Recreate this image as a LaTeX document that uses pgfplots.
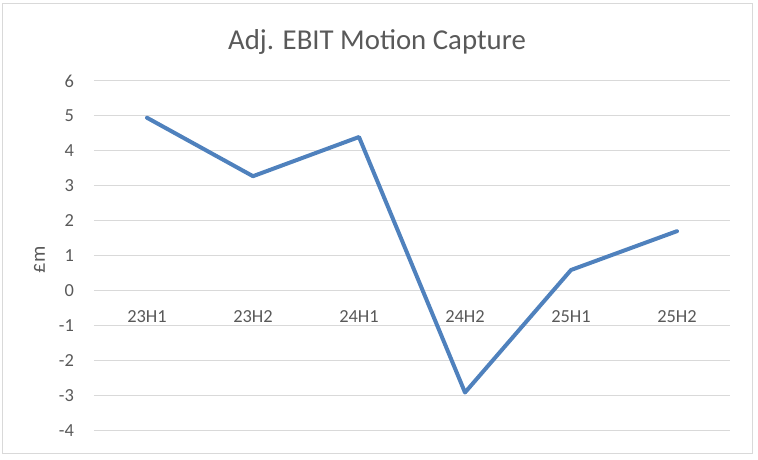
\documentclass[border=0pt]{standalone}
\usepackage{pgfplots}
\pgfplotsset{compat=1.18}
\usepackage{fontspec}
\setmainfont{Carlito}
\definecolor{txtgrey}{HTML}{595959}
\definecolor{gridgrey}{HTML}{D9D9D9}
\definecolor{lineblue}{HTML}{4F81BD}

\begin{document}
\begin{tikzpicture}
% page size 758x460 px at 0.75pt/px
\path (0,0) rectangle (568.5pt,345pt);
\draw[gridgrey, line width=0.75pt] (1.9pt,4.9pt) rectangle (564.4pt,342.4pt);
\node[text=txtgrey, font=\fontsize{21.6}{24}\selectfont] at (282.75pt,313.5pt) {Adj. EBIT Motion Capture};
\begin{axis}[
    at={(70.5pt,21.75pt)}, anchor=south west,
    scale only axis,
    width=477pt, height=262.5pt,
    xmin=-0.5, xmax=5.5,
    ymin=-4, ymax=6,
    axis x line=middle,
    axis y line=left,
    axis line style={draw=none},
    major tick style={draw=none},
    xtick={0,1,2,3,4,5},
    xticklabels={23H1,23H2,24H1,24H2,25H1,25H2},
    ytick={-4,-3,-2,-1,0,1,2,3,4,5,6},
    ymajorgrids=true,
    grid style={gridgrey, line width=0.75pt},
    /pgf/number format/assume math mode=true,
    tick label style={text=txtgrey, font=\fontsize{13.8}{16}\selectfont},
    xticklabel style={anchor=center, inner sep=0pt, yshift=-17.25pt},
    yticklabel style={anchor=east, inner sep=0pt, xshift=-12.75pt},
    ylabel={£m},
    ylabel style={at={(axis description cs:-0.0857,0.4886)}, anchor=center, rotate=0,
        text=txtgrey, font=\fontsize{15.3}{17}\selectfont},
    clip=false,
]
\addplot[lineblue, line width=3pt, line join=round, line cap=round, mark=none] coordinates {
    (0, 4.95)
    (1, 3.28)
    (2, 4.40)
    (3, -2.90)
    (4, 0.60)
    (5, 1.71)
};
\end{axis}
\end{tikzpicture}
\end{document}
